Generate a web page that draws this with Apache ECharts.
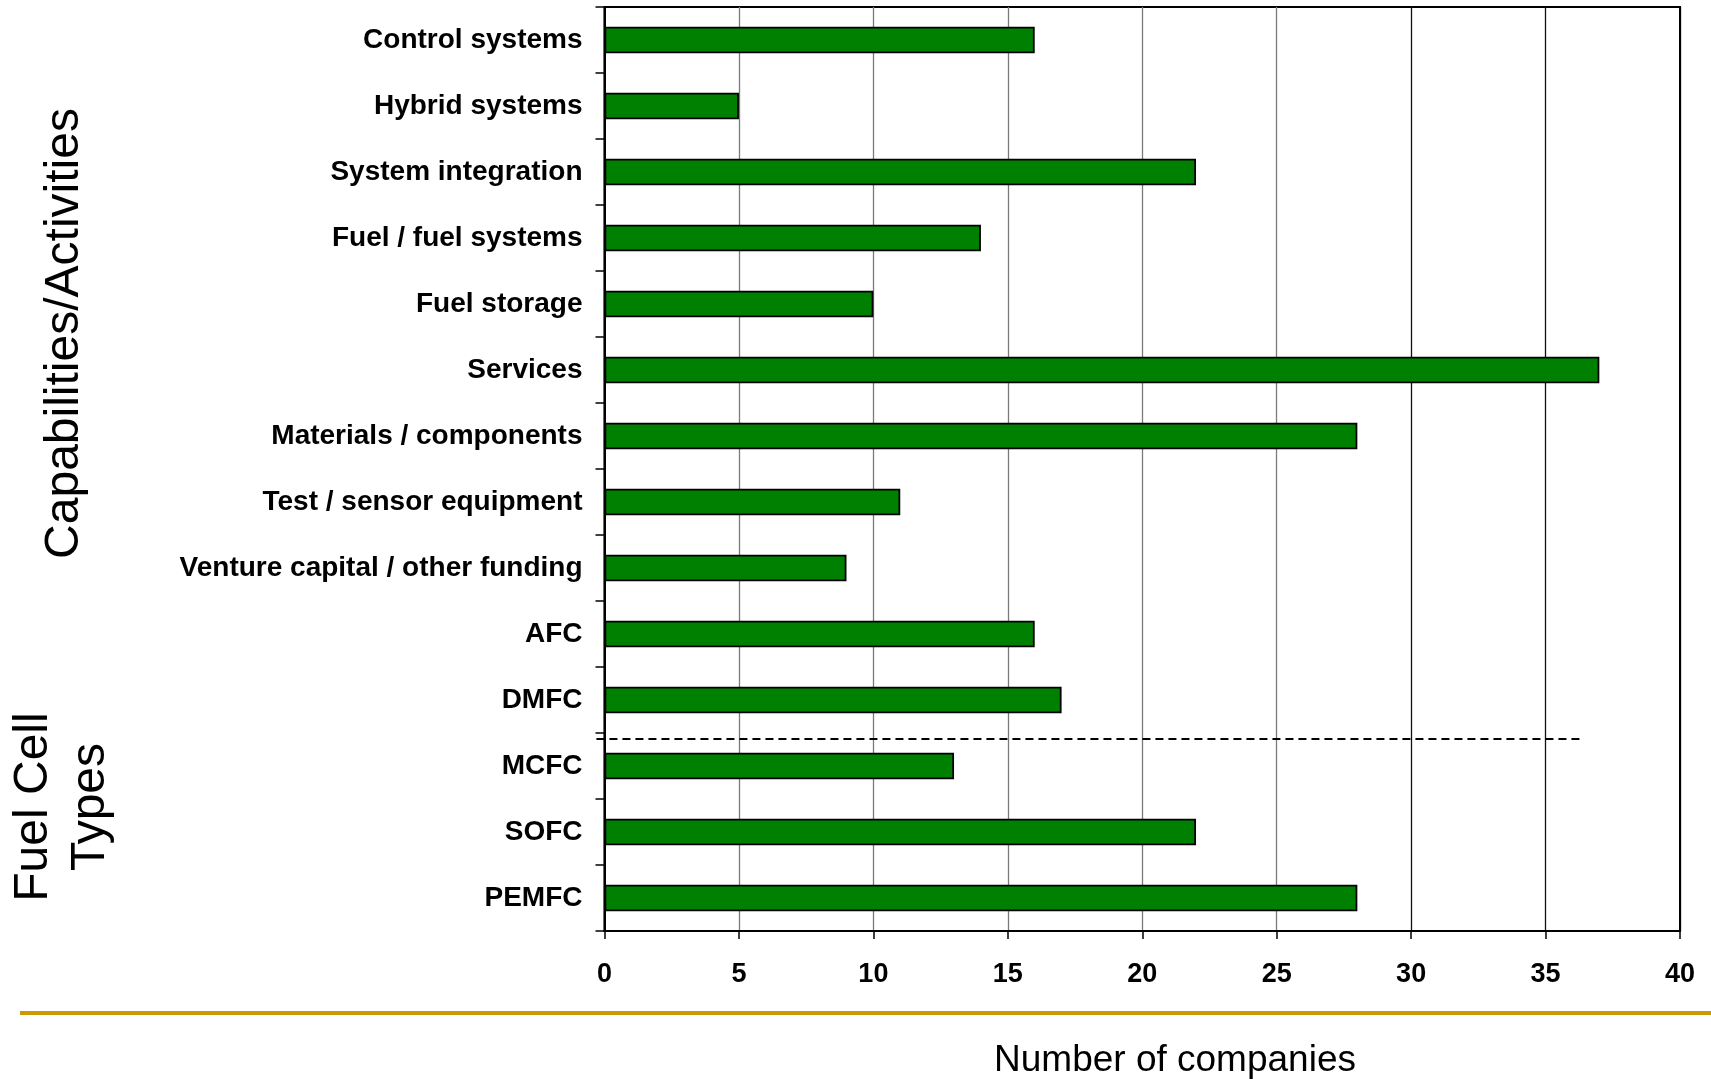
<!DOCTYPE html>
<html><head><meta charset="utf-8">
<script src="https://cdn.jsdelivr.net/npm/echarts@6/dist/echarts.min.js"></script>
<style>html,body{margin:0;padding:0;background:#fff}#c{width:1711px;height:1079px}</style>
</head><body><div id="c"></div>
<script>
const categories = ['Control systems','Hybrid systems','System integration','Fuel / fuel systems','Fuel storage','Services','Materials / components','Test / sensor equipment','Venture capital / other funding','AFC','DMFC','MCFC','SOFC','PEMFC'];
const companyCounts = [16,5,22,14,10,37,28,11,9,16,17,13,22,28];
const xMin = 0, xMax = 40, xStep = 5;
const separatorBetween = ['DMFC','MCFC'];
const separatorExtent = [-0.3, 36.3];
const groupTitleTop = 'Capabilities/Activities';
const groupTitleBottom = 'Fuel Cell\nTypes';
const xTitle = 'Number of companies';

const FONT = '"Liberation Sans", Arial, sans-serif';
const chart = echarts.init(document.getElementById('c'), null, {renderer:'canvas'});
const gridColors = ['#000','#7a7a7a','#7a7a7a','#7a7a7a','#7a7a7a','#7a7a7a','#111','#111','#000'];

chart.setOption({
  animation:false,
  backgroundColor:'#fff',
  grid:{left:604.5,right:31,top:7,bottom:148,show:true,borderColor:'#000',borderWidth:2,backgroundColor:'transparent'},
  xAxis:{type:'value',min:xMin,max:xMax,interval:xStep,
    axisLine:{show:true,lineStyle:{color:'#000',width:2}},
    axisTick:{show:true,inside:false,length:8,lineStyle:{color:'#000',width:1.5}},
    axisLabel:{color:'#000',fontFamily:FONT,fontWeight:'bold',fontSize:27,margin:30},
    splitLine:{show:true,lineStyle:{color:gridColors,width:1.3}}
  },
  yAxis:{type:'category',data:categories,inverse:true,
    axisLine:{show:true,lineStyle:{color:'#000',width:2}},
    axisTick:{show:true,inside:false,length:9,lineStyle:{color:'#000',width:1.5}},
    axisLabel:{color:'#000',fontFamily:FONT,fontWeight:'bold',fontSize:28,margin:22,padding:[3,0,0,0]},
    splitLine:{show:false}
  },
  series:[{type:'bar',data:companyCounts,barWidth:26.5,
    itemStyle:{color:'#008000',borderColor:'#000',borderWidth:1.8},
    z:2
  }]
});

const yA = chart.convertToPixel({yAxisIndex:0}, separatorBetween[0]);
const yB = chart.convertToPixel({yAxisIndex:0}, separatorBetween[1]);
const sepY = yA + (yB - yA) * 0.59;
const sx0 = chart.convertToPixel({xAxisIndex:0}, separatorExtent[0]);
const sx1 = chart.convertToPixel({xAxisIndex:0}, separatorExtent[1]);

chart.setOption({
  graphic:[
    {type:'line',shape:{x1:sx0,y1:sepY,x2:sx1,y2:sepY},style:{stroke:'#000',lineWidth:2,lineDash:[8,5]},z:10},
    {type:'rect',shape:{x:20,y:1011,width:1691,height:4},style:{fill:'#cc9900'},z:10},
    {type:'text',x:1175,y:1061,style:{text:xTitle,font:'37px '+FONT,fill:'#000',textAlign:'center',textVerticalAlign:'middle'}},
    {type:'text',x:65,y:333.5,rotation:Math.PI/2,style:{text:groupTitleTop,font:'48px '+FONT,fill:'#000',textAlign:'center',textVerticalAlign:'middle'}},
    {type:'text',x:62,y:807,rotation:Math.PI/2,style:{text:groupTitleBottom,font:'48px '+FONT,fill:'#000',textAlign:'center',textVerticalAlign:'middle',lineHeight:57}}
  ]
});
</script></body></html>
